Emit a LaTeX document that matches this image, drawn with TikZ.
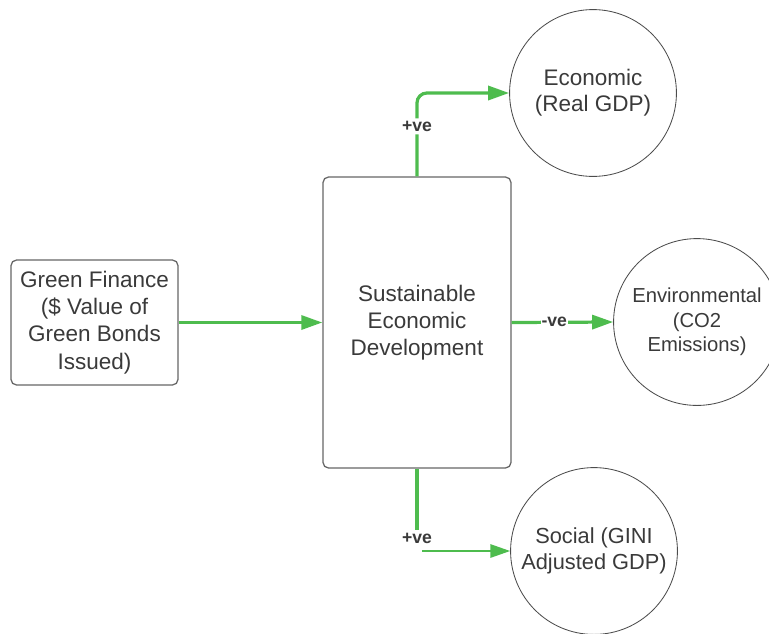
\documentclass[tikz,border=0pt]{standalone}
\usepackage{fontspec}
\setmainfont{Liberation Sans}
\usetikzlibrary{arrows.meta,positioning}

\definecolor{flowgreen}{RGB}{78,188,78}
\definecolor{inkgray}{RGB}{58,58,58}

\begin{document}
\begin{tikzpicture}[
  x=0.025cm, y=-0.025cm,
  box/.style={draw=black!60, line width=0.9pt, rounded corners=4pt, align=center, text=inkgray, font=\fontsize{16}{19.4}\selectfont},
  circ/.style={draw=black!70, line width=0.6pt, circle, minimum size=4.17cm, inner sep=0pt, align=center, text=inkgray},
  sign/.style={fill=white, font=\bfseries\fontsize{12.5}{14}\selectfont, text=inkgray, inner xsep=1pt, inner ysep=2pt},
  link/.style={flowgreen, line width=2.3pt},
  arr/.style={link, -{Triangle[length=15pt, width=10pt]}},
  thinarr/.style={flowgreen, line width=1pt, -{Triangle[length=14pt, width=9.5pt]}}
]
\useasboundingbox (0,0) rectangle (769,633);

% input and the central block
\node[box, minimum width=4.175cm, minimum height=3.125cm] (finance) at (94.5,322.5)
  {Green Finance\\(\$ Value of\\Green Bonds\\Issued)};
\node[box, minimum width=4.7cm, minimum height=7.275cm] (sed) at (417,322.5)
  {Sustainable\\Economic\\Development};

% the three outcome circles
\node[circ, font=\fontsize{16}{18.4}\selectfont] (econ) at (593,93) {Economic\\(Real GDP)};
\node[circ, font=\fontsize{14.4}{17.4}\selectfont] (env) at (697,322) {Environmental\\(CO2\\Emissions)};
\node[circ, font=\fontsize{15.5}{18.5}\selectfont] (soc) at (594,551) {Social (GINI\\Adjusted GDP)};

% connectors
\draw[arr] (finance) -- (sed);

\coordinate (topbend) at (sed.north |- econ.west);
\draw[arr, rounded corners=7pt] (sed.north) -- node[sign, pos=0.6] {+ve} (topbend) -- (econ.west);

\draw[arr] (sed.east) -- node[sign, pos=0.42, inner xsep=0.5pt] {-ve} (env.west);

\node[sign] (botsign) at (417,538) {+ve};
\coordinate (botstart) at (422,551);
\draw[link] (sed.south) -- (botsign.north);
\draw[thinarr] (botstart) -- (soc.west);

\end{tikzpicture}
\end{document}
